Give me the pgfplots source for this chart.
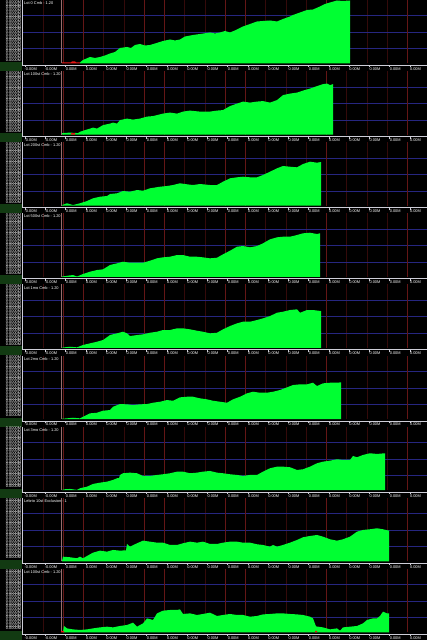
\documentclass[border=0pt]{standalone}
\usepackage{fontspec}
\setmainfont{Liberation Sans}
\usepackage{pgfplots}
\pgfplotsset{compat=1.18}

\definecolor{eqgreen}{RGB}{0,255,50}
\definecolor{gridblue}{RGB}{38,38,128}
\definecolor{griddim}{RGB}{52,10,10}
\definecolor{gridbright}{RGB}{100,22,22}
\definecolor{axwhite}{RGB}{205,205,215}
\definecolor{boxgreen}{RGB}{18,58,18}
\definecolor{startline}{RGB}{150,110,110}
\definecolor{negred}{RGB}{230,20,20}

\newcommand\tf{\fontsize{3.9}{4}\selectfont}

\pgfplotsset{panel/.style={
  scale only axis, width=405pt, height=63.5pt,
  xmin=22, xmax=427, ymin=0, ymax=63.5,
  anchor=south west, axis line style={draw=none},
  xtick={43,103.75,124,184.75,205,265.75,286,306.25,346.75,367,387.25},
  extra x ticks={63.25,83.5,144.25,164.5,225.25,245.5,326.5,407.5},
  extra x tick labels={},
  extra x tick style={x grid style={gridbright, line width=0.7pt}},
  ytick={14.5,31,47.5},
  xticklabels={}, yticklabels={},
  major tick length=0pt, tick style={draw=none},
  xmajorgrids, ymajorgrids,
  x grid style={griddim, line width=0.7pt},
  y grid style={gridblue, line width=1pt},
}, eq/.style={fill=eqgreen, draw=none}, neg/.style={fill=negred, draw=none}}

\begin{document}
\begin{tikzpicture}[x=1pt,y=1pt]
\fill[black] (0,0) rectangle (427,640);

% Panel 1
\begin{axis}[panel, at={(22pt,576.5pt)}]
\draw[startline, line width=0.6pt] (axis cs:61.5,0) -- (axis cs:61.5,63.5);
\addplot[neg] coordinates {(62,0)(62,1.2)(71,1.2)(72,2)(75,2)(76,1.2)(80,1.2)} \closedcycle;
\addplot[eq] coordinates {(80,1)(83,3.5)(90,6.5)(95,5.5)(100,6.5)(105,8)(110,10)(115,11.5)(120,15.5)(127,16.5)(131,15.5)(135,18.5)(140,19.5)(145,18)(150,18.5)(155,20)(163,22.5)(170,24)(175,23)(180,24)(185,27)(193,28.5)(200,29.5)(210,31)(215,30)(220,31)(225,32.5)(230,31)(236,33.5)(243,37)(250,39.5)(257,42)(263,42.5)(270,43)(277,42)(283,44.5)(290,47)(293,48.5)(300,51)(307,53.5)(313,54)(320,57)(325,59.5)(330,61)(337,63)(343,62.5)(350,63)} \closedcycle;
\end{axis}

% Panel 2
\begin{axis}[panel, at={(22pt,505.39pt)}]
\draw[startline, line width=0.6pt] (axis cs:61.5,0) -- (axis cs:61.5,63.5);
\addplot[eq] coordinates {(62,1.5)(70,2)(78,1.5)(80,2.8)(85,4.5)(90,6)(93,7)(97,6)(103,9.5)(110,11)(113,12)(117,11)(120,14.5)(127,16)(133,15)(140,16)(147,18)(153,18.5)(163,21)(170,22)(177,21)(183,23)(190,24)(200,23)(210,23)(217,24)(223,24.5)(230,28.5)(237,31)(243,33)(250,32)(257,33)(263,33.5)(270,32)(277,34.5)(283,39.5)(290,41)(297,42)(303,44)(310,46)(317,48.5)(323,50.5)(327,51)(330,49.5)(333,50.5)} \closedcycle;
\addplot[neg] coordinates {(71,0)(71,1.5)(75,1.5)(75,0)} \closedcycle;
\end{axis}

% Panel 3
\begin{axis}[panel, at={(22pt,434.28pt)}]
\draw[startline, line width=0.6pt] (axis cs:61.5,0) -- (axis cs:61.5,63.5);
\addplot[eq] coordinates {(62,0.7)(67,2.4)(73,0.7)(80,2.4)(87,4.7)(93,7.4)(100,9)(107,9.7)(110,11.7)(117,12.4)(123,14.7)(130,14)(137,15.7)(143,15)(150,17.4)(160,19)(167,19.7)(173,20.7)(180,22.4)(187,21.4)(193,20.7)(200,21.7)(210,20.7)(217,20.7)(223,24)(230,27.4)(237,28.4)(243,29)(250,28.4)(257,28.4)(263,30.7)(270,34)(277,37.4)(283,39.7)(290,39)(297,38.4)(303,41.7)(310,44)(317,43)(321,43.7)} \closedcycle;
\end{axis}

% Panel 4
\begin{axis}[panel, at={(22pt,363.17pt)}]
\draw[startline, line width=0.6pt] (axis cs:61.5,0) -- (axis cs:61.5,63.5);
\addplot[eq] coordinates {(62,0.3)(67,1)(73,1.8)(77,0.3)(83,2.8)(90,5.1)(97,6.8)(103,7.5)(110,11.8)(117,13.5)(123,15.1)(130,14.1)(137,14.1)(143,14.1)(150,16.1)(157,18.5)(163,19.5)(170,20.1)(177,21.8)(183,21.8)(190,20.1)(197,20.1)(203,19.5)(210,18.5)(217,19.1)(223,22.5)(230,26.1)(237,30.1)(243,30.8)(250,29.5)(257,30.8)(263,33.5)(270,37.5)(277,39.5)(283,40.1)(290,40.1)(297,41.8)(303,43.5)(310,44.1)(317,42.8)(320,43.5)} \closedcycle;
\end{axis}

% Panel 5
\begin{axis}[panel, at={(22pt,292.06pt)}]
\draw[startline, line width=0.6pt] (axis cs:61.5,0) -- (axis cs:61.5,63.5);
\addplot[eq] coordinates {(62,0.3)(70,1.2)(77,0.6)(83,2.9)(90,4.6)(97,6.2)(103,7.9)(110,12.9)(117,14.6)(123,16.2)(127,14.6)(130,11.9)(137,12.9)(143,13.6)(150,15.2)(157,16.2)(163,17.9)(170,17.9)(177,19.6)(183,19.6)(190,18.6)(197,17.2)(203,16.2)(210,14.6)(217,15.2)(223,18.6)(230,21.9)(237,24.6)(243,26.2)(250,26.2)(257,27.9)(263,29.6)(270,31.9)(277,35.2)(283,36.2)(290,37.9)(297,38.6)(300,35.2)(307,37.9)(313,37.9)(321,36.9)} \closedcycle;
\end{axis}

% Panel 6
\begin{axis}[panel, at={(22pt,220.95pt)}]
\draw[startline, line width=0.6pt] (axis cs:61.5,0) -- (axis cs:61.5,63.5);
\addplot[eq] coordinates {(62,0.3)(67,0.7)(73,1.3)(80,0.7)(83,2.3)(90,5.7)(97,6.3)(103,8.3)(110,9)(113,12.3)(120,15)(127,14.7)(133,14)(140,14.7)(147,15)(153,16.3)(160,17.3)(167,19)(173,18.3)(180,21.7)(187,22.3)(193,22.3)(200,20.7)(207,19.7)(213,18.3)(220,17.3)(227,16.3)(233,19.7)(240,22.3)(247,25.7)(253,27.3)(260,26.3)(267,26.3)(273,27.3)(280,29)(287,31.7)(293,34)(300,34.7)(307,34.7)(313,36.3)(317,33)(323,35.7)(330,36.3)(337,36.3)(341,36.7)} \closedcycle;
\end{axis}

% Panel 7
\begin{axis}[panel, at={(22pt,149.84pt)}]
\draw[startline, line width=0.6pt] (axis cs:61.5,0) -- (axis cs:61.5,63.5);
\addplot[eq] coordinates {(62,0.3)(65,0.9)(70,1.2)(77,0.3)(80,1.9)(87,3.5)(93,6.2)(100,7.5)(107,8.5)(113,10.2)(117,11.9)(119,12)(120,15.2)(123,16.9)(130,17.5)(137,16.9)(143,14.2)(150,14.2)(157,15.2)(163,15.9)(170,16.9)(177,18.5)(183,18.5)(190,16.9)(197,17.5)(203,18.5)(210,19.2)(217,17.5)(223,16.9)(230,15.9)(237,15.2)(243,14.2)(250,15.2)(257,15.2)(263,18.5)(270,21.9)(277,23.5)(283,23.5)(290,22.9)(297,20.2)(303,20.9)(310,23.5)(317,26.9)(323,28.5)(330,29.5)(337,30.9)(343,30.2)(350,30.2)(353,34.2)(357,32.9)(363,35.2)(370,36.9)(377,36.2)(385,36.9)} \closedcycle;
\end{axis}

% Panel 8
\begin{axis}[panel, at={(22pt,78.73pt)}]
\draw[startline, line width=0.6pt] (axis cs:61.5,0) -- (axis cs:61.5,63.5);
\addplot[eq] coordinates {(62,0.3)(63,4.6)(70,4)(77,3)(80,4.6)(83,3)(87,5.3)(93,8.6)(100,10.6)(107,9.6)(113,11.3)(120,10.6)(126,11)(127,17.3)(130,14.6)(137,18)(143,20.6)(150,19.6)(157,18.6)(163,18.6)(170,16.3)(177,16.3)(183,18)(190,19.6)(197,18.6)(203,19.6)(210,17.3)(217,17.3)(223,18.6)(230,19.6)(237,19.6)(243,18.6)(250,18.6)(257,17)(263,16.3)(270,14.6)(273,16.3)(277,14.6)(283,16.3)(290,18.6)(297,21.3)(303,24)(310,25.3)(317,26.3)(323,24.6)(330,22)(337,20.6)(343,22)(350,24.6)(357,29.6)(363,31.3)(370,32)(377,33)(383,32)(389,30.6)} \closedcycle;
\end{axis}

% Panel 9
\begin{axis}[panel, at={(22pt,7.62pt)}]
\draw[startline, line width=0.6pt] (axis cs:61.5,0) -- (axis cs:61.5,63.5);
\addplot[eq] coordinates {(63,0.7)(64,6.4)(67,4)(73,3)(80,2.4)(87,3)(93,4)(100,5)(107,5.7)(113,5)(120,6.4)(127,7.4)(133,9.7)(137,5.7)(143,9)(147,14)(153,12.4)(157,19)(163,21.7)(170,22.4)(177,22.4)(180,23)(183,18.4)(190,19)(197,17.4)(203,18.4)(210,19.7)(217,16.4)(223,17.4)(230,18.4)(237,17.4)(243,17.4)(250,15.7)(257,16.4)(263,18)(270,18.4)(277,19)(283,19)(290,18.4)(297,18)(303,17.4)(310,15.7)(313,14)(316,6)(323,5)(330,3)(337,4)(340,1.7)(343,5)(350,5.7)(357,6.4)(363,9)(367,12.4)(373,14)(377,14)(380,16.4)(383,20.7)(387,19)(389,19)} \closedcycle;
\addplot[neg] coordinates {(61,0)(61,1.5)(64,1.5)(64,0)} \closedcycle;
\addplot[neg] coordinates {(315,0)(315,1.5)(317,1.5)(317,0)} \closedcycle;
\end{axis}

% decorations
\foreach \B/\ttl in {576.5/{Lot 0 Cmb - 1.20},505.39/{Lot 100st Cmb - 1.20},434.28/{Lot 200st Cmb - 1.20},363.17/{Lot 500st Cmb - 1.20},292.06/{Lot 1mo Cmb - 1.20},220.95/{Lot 2mo Cmb - 1.20},149.84/{Lot 3mo Cmb - 1.20},78.73/{Lebrio 10st Exclusion - 1},7.62/{Lot 100st Cmb - 1.20}}{
  \fill[boxgreen] (0,\B-7.5) rectangle (22,\B+1.5);
  \draw[axwhite, line width=0.9pt] (22,\B-2) -- (22,\B+63.5);
  \draw[axwhite, line width=0.9pt] (22,\B-2) -- (427,\B-2);
  \foreach \j in {0,...,19}{
    \draw[axwhite, line width=0.5pt] ({25+20.25*\j},\B-2) -- ({25+20.25*\j},\B-4);
    \node[text=white, inner sep=0pt, font=\tf] at ({30.7+20.25*\j},\B-5.6) {\ifnum\j<2 -0.00M\else 0.00M\fi};
  }
  \node[text=white, inner sep=0pt, font=\tf, anchor=west] at (24,\B+60.3) {\ttl};
  \foreach \i in {0,...,21}{
    \node[text=white, inner sep=0pt, font=\tf, anchor=east] at (21.3,{\B+61.5-2.75*\i}) {0.0000M};
  }
}
\pgfresetboundingbox
\path (0,0) rectangle (427,640);
\end{tikzpicture}
\end{document}
